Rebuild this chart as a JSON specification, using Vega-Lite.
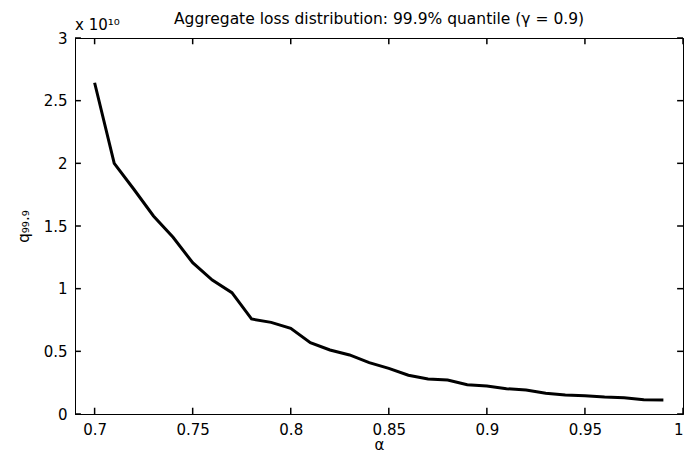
{
  "$schema": "https://vega.github.io/schema/vega-lite/v6.json",
  "width": 608,
  "height": 376,
  "autosize": {"type": "none"},
  "padding": {"left": 75, "top": 38, "right": 1, "bottom": 38},
  "background": "white",
  "config": {
    "font": "DejaVu Sans",
    "view": {"stroke": "black", "strokeWidth": 1},
    "axis": {
      "domainColor": "black",
      "tickColor": "black",
      "labelColor": "black",
      "titleColor": "black",
      "grid": false,
      "labelFont": "DejaVu Sans",
      "titleFont": "DejaVu Sans",
      "labelFontSize": 15,
      "titleFontSize": 15,
      "titleFontWeight": "normal"
    }
  },
  "title": {
    "text": "Aggregate loss distribution: 99.9% quantile (γ = 0.9)",
    "font": "DejaVu Sans",
    "fontSize": 15.5,
    "fontWeight": "normal",
    "color": "black",
    "anchor": "middle",
    "offset": -9
  },
  "datasets": {
    "xticks": [{"v": 0.7}, {"v": 0.75}, {"v": 0.8}, {"v": 0.85}, {"v": 0.9}, {"v": 0.95}, {"v": 1.0}],
    "yticks": [{"v": 0}, {"v": 0.5}, {"v": 1}, {"v": 1.5}, {"v": 2}, {"v": 2.5}, {"v": 3}]
  },
  "data": {
    "values": [
      {"alpha": 0.70, "q": 2.643},
      {"alpha": 0.71, "q": 2.000},
      {"alpha": 0.72, "q": 1.793},
      {"alpha": 0.73, "q": 1.580},
      {"alpha": 0.74, "q": 1.410},
      {"alpha": 0.75, "q": 1.207},
      {"alpha": 0.76, "q": 1.069},
      {"alpha": 0.77, "q": 0.968},
      {"alpha": 0.78, "q": 0.758},
      {"alpha": 0.79, "q": 0.731},
      {"alpha": 0.80, "q": 0.684},
      {"alpha": 0.81, "q": 0.569},
      {"alpha": 0.82, "q": 0.511},
      {"alpha": 0.83, "q": 0.471},
      {"alpha": 0.84, "q": 0.410},
      {"alpha": 0.85, "q": 0.364},
      {"alpha": 0.86, "q": 0.309},
      {"alpha": 0.87, "q": 0.279},
      {"alpha": 0.88, "q": 0.271},
      {"alpha": 0.89, "q": 0.234},
      {"alpha": 0.90, "q": 0.223},
      {"alpha": 0.91, "q": 0.202},
      {"alpha": 0.92, "q": 0.191},
      {"alpha": 0.93, "q": 0.165},
      {"alpha": 0.94, "q": 0.152},
      {"alpha": 0.95, "q": 0.146},
      {"alpha": 0.96, "q": 0.136},
      {"alpha": 0.97, "q": 0.130},
      {"alpha": 0.98, "q": 0.114},
      {"alpha": 0.99, "q": 0.112}
    ]
  },
  "layer": [
    {
      "mark": {"type": "line", "color": "black", "strokeWidth": 3},
      "encoding": {
        "x": {
          "field": "alpha",
          "type": "quantitative",
          "scale": {"domain": [0.69, 1.0], "nice": false, "zero": false},
          "axis": {
            "orient": "bottom",
            "title": "α",
            "values": [0.7, 0.75, 0.8, 0.85, 0.9, 0.95, 1.0],
            "format": "~g",
            "ticks": false,
            "labelPadding": 8,
            "titlePadding": 0
          }
        },
        "y": {
          "field": "q",
          "type": "quantitative",
          "scale": {"domain": [0, 3], "nice": false},
          "axis": {
            "orient": "left",
            "title": "q₉₉.₉",
            "values": [0, 0.5, 1, 1.5, 2, 2.5, 3],
            "format": "~g",
            "ticks": false,
            "labelPadding": 8,
            "titlePadding": 12
          }
        }
      }
    },
    {
      "data": {"name": "xticks"},
      "mark": {"type": "rule", "color": "black", "strokeWidth": 1.5},
      "encoding": {
        "x": {"field": "v", "type": "quantitative"},
        "y": {"datum": 0},
        "y2": {"datum": 0.05}
      }
    },
    {
      "data": {"name": "xticks"},
      "mark": {"type": "rule", "color": "black", "strokeWidth": 1.5},
      "encoding": {
        "x": {"field": "v", "type": "quantitative"},
        "y": {"datum": 3},
        "y2": {"datum": 2.95}
      }
    },
    {
      "data": {"name": "yticks"},
      "mark": {"type": "rule", "color": "black", "strokeWidth": 1.5},
      "encoding": {
        "y": {"field": "v", "type": "quantitative"},
        "x": {"datum": 0.69},
        "x2": {"datum": 0.693}
      }
    },
    {
      "data": {"name": "yticks"},
      "mark": {"type": "rule", "color": "black", "strokeWidth": 1.5},
      "encoding": {
        "y": {"field": "v", "type": "quantitative"},
        "x": {"datum": 1.0},
        "x2": {"datum": 0.997}
      }
    },
    {
      "data": {"values": [{"alpha": 0.69, "q": 3, "label": "x 10¹⁰"}]},
      "mark": {"type": "text", "align": "left", "baseline": "bottom", "dy": -5, "fontSize": 15, "font": "DejaVu Sans", "color": "black"},
      "encoding": {
        "x": {"field": "alpha", "type": "quantitative"},
        "y": {"field": "q", "type": "quantitative"},
        "text": {"field": "label"}
      }
    }
  ]
}
